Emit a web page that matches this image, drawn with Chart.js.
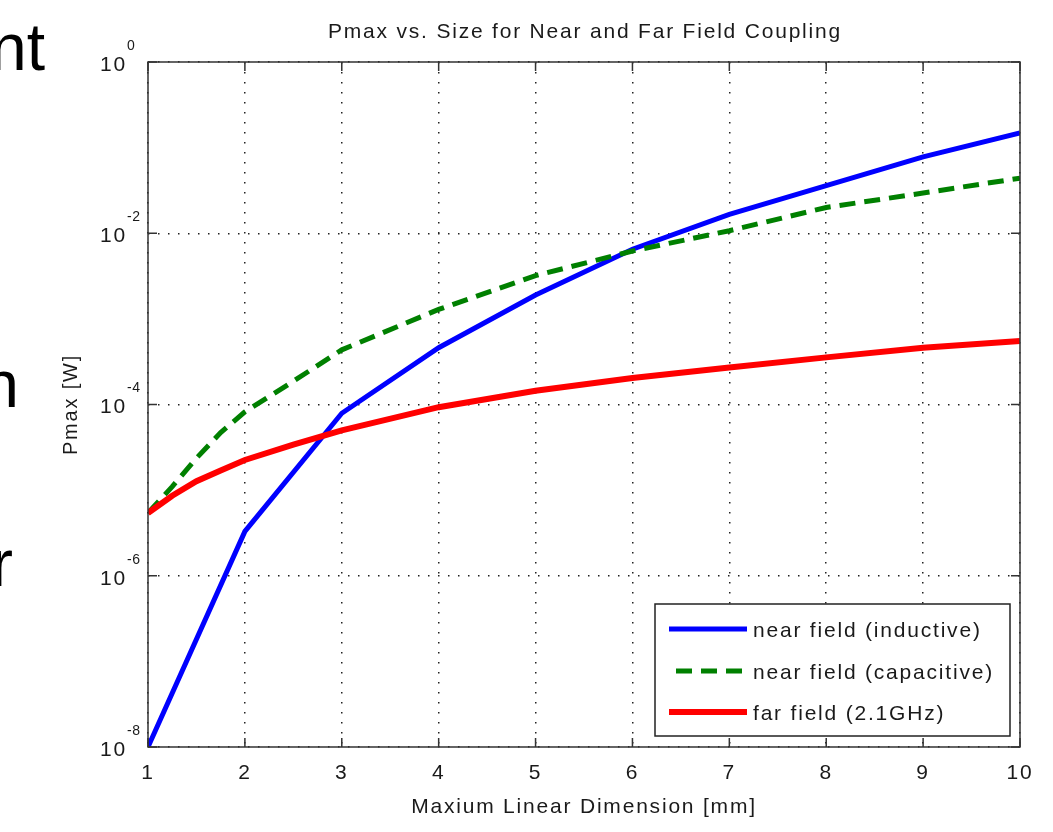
<!DOCTYPE html>
<html>
<head>
<meta charset="utf-8">
<script src="https://cdn.jsdelivr.net/npm/chart.js@4.4.1/dist/chart.umd.min.js"></script>
<style>
  html, body { margin: 0; padding: 0; background: #fff; }
  #wrap { position: relative; width: 1053px; height: 832px; overflow: hidden; }
  #chart { position: absolute; left: 0; top: 0; }
  .slide {
    position: absolute;
    font-family: "Liberation Sans", Arial, sans-serif;
    font-size: 66px;
    line-height: 1;
    color: #000;
    white-space: nowrap;
    text-align: right;
  }
</style>
</head>
<body>
<div id="wrap">
  <canvas id="chart" width="1053" height="832"></canvas>
  <div class="slide" style="right:1008px; top:14px">nt</div>
  <div class="slide" style="right:1034px; top:351px">n</div>
  <div class="slide" style="right:1040px; top:530px">r</div>
</div>
<script>
// values (x in mm, Pmax in W)
const chartTitle = "Pmax vs. Size for Near and Far Field Coupling";
const xTitle = "Maxium Linear Dimension [mm]";
const yTitle = "Pmax [W]";
const seriesNames = ["near field (inductive)", "near field (capacitive)", "far field (2.1GHz)"];

const inductiveX = [1, 2, 3, 4, 5, 6, 7, 8, 9, 10];
const inductiveY = [1.0e-8, 3.3e-6, 7.9e-5, 4.6e-4, 1.9e-3, 6.5e-3, 1.66e-2, 3.6e-2, 7.8e-2, 0.148];

const capacitiveX = [1, 1.25, 1.5, 1.75, 2, 2.5, 3, 4, 5, 6, 7, 8, 9, 10];
const capacitiveY = [5.4e-6, 1.1e-5, 2.36e-5, 4.7e-5, 8.2e-5, 1.87e-4, 4.35e-4, 1.29e-3, 3.2e-3, 6.2e-3, 1.07e-2, 2.0e-2, 2.95e-2, 4.4e-2];

const farX = [1, 1.25, 1.5, 1.75, 2, 2.5, 3, 4, 5, 6, 7, 8, 9, 10];
const farY = [5.4e-6, 8.6e-6, 1.27e-5, 1.7e-5, 2.25e-5, 3.4e-5, 5.0e-5, 9.3e-5, 1.45e-4, 2.04e-4, 2.7e-4, 3.55e-4, 4.6e-4, 5.5e-4];

const yTickValues = [1e-8, 1e-6, 1e-4, 1e-2, 1];
const yTickExponents = ["-8", "-6", "-4", "-2", "0"];

const FONT = '"Liberation Sans", Arial, Helvetica, sans-serif';
const INK = "#1a1a1a";
const SPACING = "1.8px";

const toPoints = (xs, ys) => xs.map((x, i) => ({ x, y: ys[i] }));

// frame, inward ticks, y labels with exponents, title, legend
const matlabAxes = {
  id: "matlabAxes",
  beforeDraw(chart) {
    // MATLAB-style wide letter spacing for every label Chart.js draws
    chart.ctx.letterSpacing = SPACING;
  },
  afterDraw(chart) {
    const { ctx, chartArea: a, scales } = chart;
    const xs = scales.x, ys = scales.y;
    ctx.save();

    // frame
    ctx.strokeStyle = "#333";
    ctx.lineWidth = 1.5;
    ctx.strokeRect(a.left, a.top, a.right - a.left, a.bottom - a.top);

    // inward tick marks
    ctx.beginPath();
    xs.ticks.forEach((t) => {
      const px = xs.getPixelForValue(t.value);
      ctx.moveTo(px, a.bottom); ctx.lineTo(px, a.bottom - 9);
      ctx.moveTo(px, a.top); ctx.lineTo(px, a.top + 9);
    });
    yTickValues.forEach((v) => {
      const py = ys.getPixelForValue(v);
      ctx.moveTo(a.left, py); ctx.lineTo(a.left + 9, py);
      ctx.moveTo(a.right, py); ctx.lineTo(a.right - 9, py);
    });
    ctx.stroke();

    // y tick labels 10^n
    ctx.fillStyle = INK;
    yTickValues.forEach((v, i) => {
      const py = ys.getPixelForValue(v);
      ctx.letterSpacing = SPACING;
      ctx.font = `21px ${FONT}`;
      ctx.textAlign = "right";
      ctx.textBaseline = "middle";
      ctx.fillText("10", 127, py + 3);
      ctx.letterSpacing = "0.5px";
      ctx.font = `14px ${FONT}`;
      ctx.textAlign = "left";
      ctx.fillText(yTickExponents[i], 127, py - 16);
    });

    // title
    ctx.letterSpacing = SPACING;
    ctx.font = `21px ${FONT}`;
    ctx.textAlign = "center";
    ctx.textBaseline = "middle";
    ctx.fillText(chartTitle, (a.left + a.right) / 2 + 1, 32);

    // legend
    const box = { l: 655, t: 604, r: 1010, b: 736 };
    ctx.fillStyle = "#fff";
    ctx.fillRect(box.l, box.t, box.r - box.l, box.b - box.t);
    ctx.strokeStyle = "#222";
    ctx.lineWidth = 1.5;
    ctx.strokeRect(box.l, box.t, box.r - box.l, box.b - box.t);
    const rowY = [629, 671, 712];
    chart.data.datasets.forEach((ds, i) => {
      ctx.beginPath();
      ctx.strokeStyle = ds.borderColor;
      ctx.lineWidth = ds.borderWidth;
      ctx.setLineDash(ds.borderDash || []);
      ctx.moveTo(ds.borderDash ? 676 : 669, rowY[i]);
      ctx.lineTo(747, rowY[i]);
      ctx.stroke();
      ctx.setLineDash([]);
      ctx.fillStyle = INK;
      ctx.font = `21px ${FONT}`;
      ctx.textAlign = "left";
      ctx.textBaseline = "middle";
      ctx.fillText(ds.label, 753, rowY[i] + 2);
    });

    ctx.restore();
  },
};

new Chart(document.getElementById("chart"), {
  type: "scatter",
  data: {
    datasets: [
      {
        label: seriesNames[0],
        data: toPoints(inductiveX, inductiveY),
        borderColor: "#0000ff",
        borderWidth: 5,
        order: 3,
      },
      {
        label: seriesNames[1],
        data: toPoints(capacitiveX, capacitiveY),
        borderColor: "#008000",
        borderWidth: 5,
        borderDash: [16, 9],
        order: 2,
      },
      {
        label: seriesNames[2],
        data: toPoints(farX, farY),
        borderColor: "#ff0000",
        borderWidth: 6,
        order: 1,
      },
    ].map((ds) => ({ ...ds, showLine: true, pointRadius: 0, tension: 0, fill: false })),
  },
  options: {
    responsive: false,
    animation: false,
    events: [],
    layout: { padding: { left: 0, top: 62, right: 33, bottom: 0 } },
    plugins: {
      legend: { display: false },
      tooltip: { enabled: false },
      title: { display: false },
    },
    scales: {
      x: {
        type: "linear",
        min: 1,
        max: 10,
        ticks: {
          stepSize: 1,
          color: INK,
          padding: 14,
          font: { family: FONT, size: 21 },
        },
        grid: { color: "#222", lineWidth: 1.5, drawTicks: false },
        border: { display: false, dash: [1.5, 8.5] },
        title: {
          display: true,
          text: xTitle,
          color: INK,
          font: { family: FONT, size: 21 },
          padding: { top: 0, bottom: 12 },
        },
        afterFit: (scale) => { scale.height = 85; },
      },
      y: {
        type: "logarithmic",
        min: 1e-8,
        max: 1,
        afterBuildTicks: (scale) => { scale.ticks = yTickValues.map((value) => ({ value })); },
        ticks: { display: false },
        grid: { color: "#222", lineWidth: 1.5, drawTicks: false },
        border: { display: false, dash: [1.5, 8.5] },
        title: {
          display: true,
          text: yTitle,
          color: INK,
          font: { family: FONT, size: 20 },
          padding: { top: 59, bottom: 0 },
        },
        afterFit: (scale) => { scale.width = 148; },
      },
    },
  },
  plugins: [matlabAxes],
});
</script>
</body>
</html>
